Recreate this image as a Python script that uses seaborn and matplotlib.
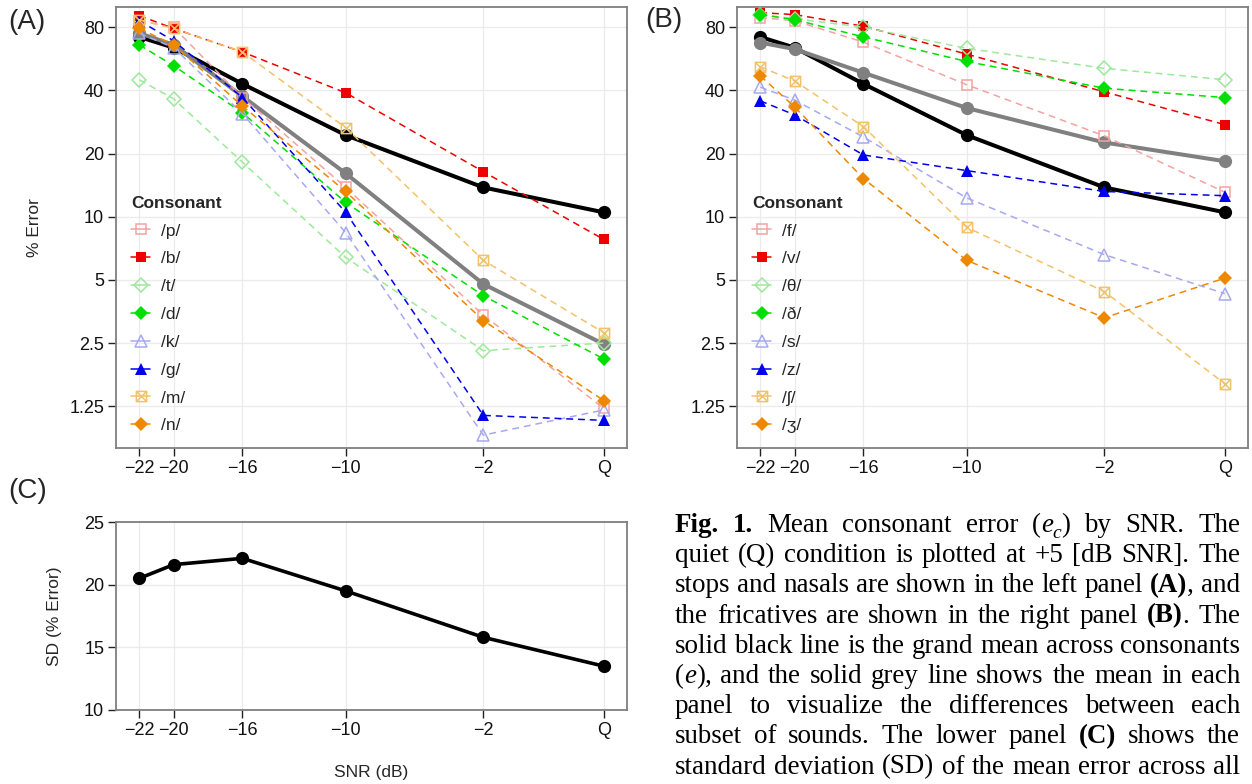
import re
import matplotlib
matplotlib.use("Agg")
import matplotlib.pyplot as plt
import seaborn as sns
from matplotlib.lines import Line2D
from matplotlib.path import Path
from matplotlib.transforms import IdentityTransform

# ---------------- data ----------------
snr_values = [-22, -20, -16, -10, -2, 5]
snr_labels = ["\u221222", "\u221220", "\u221216", "\u221210", "\u22122", "Q"]

grand_mean = [72, 64, 43, 24.5, 13.8, 10.5]

stops_nasals = ["/p/", "/b/", "/t/", "/d/", "/k/", "/g/", "/m/", "/n/"]
err_p = [86, 80, 37, 13.8, 3.4, 1.22]
err_b = [91, 79, 61, 39, 16.4, 7.8]
err_t = [45, 36.5, 18.2, 6.4, 2.3, 2.5]
err_d = [66, 52.5, 31.3, 11.7, 4.2, 2.1]
err_k = [75, 64, 31, 8.4, 0.91, 1.2]
err_g = [86, 69, 37, 10.5, 1.13, 1.07]
err_m = [87, 79, 61, 26.6, 6.2, 2.8]
err_n = [79, 66, 33.7, 13.2, 3.2, 1.33]
mean_stops_nasals = [75, 66, 37.5, 16.1, 4.78, 2.47]

fricatives = ["/f/", "/v/", "/\u03b8/", "/\u00f0/", "/s/", "/z/", "/\u0283/", "/\u0292/"]
err_f = [89, 86, 68, 42.6, 24.3, 13.1]
err_v = [94, 92, 81, 59.6, 39.4, 27.5]
err_th = [92, 88, 80, 63.5, 51, 45]
err_dh = [92, 87, 72, 55, 41, 37]
err_s = [41.5, 36, 24, 12.3, 6.6, 4.3]
err_z = [35.7, 30.6, 19.7, 16.6, 13.2, 12.6]
err_sh = [51.9, 44.4, 26.9, 8.9, 4.4, 1.6]
err_zh = [47, 33.4, 15.2, 6.2, 3.3, 5.1]
mean_fricatives = [67.7, 63, 48.6, 33, 22.6, 18.4]

sd_values = [20.5, 21.6, 22.1, 19.5, 15.8, 13.5]

y_ticks = [1.25, 2.5, 5, 10, 20, 40, 80]
y_tick_labels = ["1.25", "2.5", "5", "10", "20", "40", "80"]

caption_lines = [
    "**Fig.** **1.** Mean consonant error (_e_~c~) by SNR. The",
    "quiet (Q) condition is plotted at +5 [dB SNR]. The",
    "stops and nasals are shown in the left panel **(A)**, and",
    "the fricatives are shown in the right panel **(B)**. The",
    "solid black line is the grand mean across consonants",
    "(_e_), and the solid grey line shows the mean in each",
    "panel to visualize the differences between each",
    "subset of sounds. The lower panel **(C)** shows the",
    "standard deviation (SD) of the mean error across all",
]

# ---------------- styles ----------------
sns.set_theme(style="whitegrid")
plt.rcParams["font.family"] = ["Liberation Sans", "DejaVu Sans"]
plt.rcParams["axes.unicode_minus"] = True

# square with an X inside
box_x = Path(
    [(-1, -1), (1, -1), (1, 1), (-1, 1), (-1, -1),
     (-1, -1), (1, 1), (-1, 1), (1, -1)],
    [Path.MOVETO, Path.LINETO, Path.LINETO, Path.LINETO, Path.CLOSEPOLY,
     Path.MOVETO, Path.LINETO, Path.MOVETO, Path.LINETO],
)

# (colour, marker, marker size, filled)
series_styles = [
    ("#F4A2A2", "s", 7.0, False),
    ("#EE0000", "s", 7.4, True),
    ("#9DE89D", "D", 7.0, False),
    ("#00E000", "D", 7.4, True),
    ("#A8A8F2", "^", 8.6, False),
    ("#0000EE", "^", 8.6, True),
    ("#F2C26A", box_x, 7.4, False),
    ("#EE8800", "D", 7.4, True),
]

W, H = 1252, 784
fig = plt.figure(figsize=(W / 100, H / 100), dpi=100)
fig.patch.set_facecolor("white")


def rect(left, top, right, bottom):
    return [left / W, 1 - bottom / H, (right - left) / W, (bottom - top) / H]


ax_a = fig.add_axes(rect(116, 7, 627, 448))
ax_b = fig.add_axes(rect(737, 7, 1248, 448))
ax_c = fig.add_axes(rect(116, 522, 627, 710))

GRID = "#EBEBEB"
FRAME = "#7F7F7F"
TICKFS = 13
LABELFS = 12.5


def style_axes(ax):
    ax.set_facecolor("white")
    for sp in ax.spines.values():
        sp.set_color(FRAME)
        sp.set_linewidth(1.3)
        sp.set_visible(True)
    ax.grid(True, which="major", color=GRID, linewidth=0.9)
    ax.grid(False, which="minor")
    ax.tick_params(axis="both", which="major", direction="out", length=5.5,
                   width=1.0, color="#222222", labelsize=TICKFS,
                   labelcolor="#111111", pad=3, left=True, bottom=True)
    ax.tick_params(axis="both", which="minor", length=0)
    ax.set_xlim(-23.35, 6.35)
    ax.set_xticks(snr_values)
    ax.set_xticklabels(snr_labels)
    ax.set_xlabel("")
    ax.set_ylabel("")


def draw_panel(ax, names, series, panel_mean):
    sns.lineplot(x=snr_values, y=grand_mean, ax=ax, color="black",
                 linewidth=2.9, marker="o", markersize=9.5,
                 markeredgewidth=0, zorder=2)
    sns.lineplot(x=snr_values, y=panel_mean, ax=ax, color="#808080",
                 linewidth=2.9, marker="o", markersize=9.5,
                 markeredgewidth=0, zorder=2)
    handles = []
    for name, vals, (col, mk, ms, filled) in zip(names, series, series_styles):
        face = col if filled else "none"
        sns.lineplot(x=snr_values, y=vals, ax=ax, color=col,
                     linewidth=1.1, linestyle=(0, (4.5, 3.2)),
                     marker=mk, markersize=ms, markerfacecolor=face,
                     markeredgecolor=col,
                     markeredgewidth=0 if filled else 1.1, zorder=3)
        handles.append(Line2D([], [], color=col, linewidth=1.1,
                              marker=mk, markersize=ms,
                              markerfacecolor=face, markeredgecolor=col,
                              markeredgewidth=0 if filled else 1.1,
                              label=name))
    ax.set_yscale("log", base=2)
    ax.set_ylim(0.79, 100)
    ax.set_yticks(y_ticks)
    ax.set_yticklabels(y_tick_labels)
    ax.yaxis.set_minor_locator(matplotlib.ticker.NullLocator())
    style_axes(ax)
    leg = ax.legend(handles=handles, title="Consonant", loc="upper left",
                    bbox_to_anchor=(0.03, 0.572), frameon=False,
                    fontsize=12.5,
                    title_fontproperties={"weight": "bold", "size": 12.5},
                    handlelength=1.1, handletextpad=0.6, labelspacing=0.73,
                    borderpad=0, borderaxespad=0, alignment="left")
    return leg


draw_panel(ax_a, stops_nasals,
           [err_p, err_b, err_t, err_d, err_k, err_g, err_m, err_n],
           mean_stops_nasals)
draw_panel(ax_b, fricatives,
           [err_f, err_v, err_th, err_dh, err_s, err_z, err_sh, err_zh],
           mean_fricatives)

ax_a.set_ylabel("% Error", fontsize=LABELFS)
ax_a.yaxis.set_label_coords(-0.145, 0.5)

# SD panel
sns.lineplot(x=snr_values, y=sd_values, ax=ax_c, color="black",
             linewidth=2.6, marker="o", markersize=9.5, markeredgewidth=0)
ax_c.set_ylim(10, 25)
ax_c.set_yticks([10, 15, 20, 25])
style_axes(ax_c)
ax_c.set_ylabel("SD (% Error)", fontsize=LABELFS)
ax_c.yaxis.set_label_coords(-0.105, 0.5)
ax_c.set_xlabel("SNR (dB)", fontsize=LABELFS)
ax_c.xaxis.set_label_coords(0.5, -0.29)
ax_c.xaxis.label.set_va("top")

# panel tags
for tag, x, y in [("(A)", 8, 22), ("(B)", 645, 20), ("(C)", 8, 491)]:
    fig.text(x / W, 1 - y / H, tag, fontsize=20, ha="left", va="center")

# ---------------- justified caption ----------------
CAP_LEFT, CAP_RIGHT = 675, 1240
CAP_BASE0, CAP_STEP = 532, 30.2
serif = ["Liberation Serif", "DejaVu Serif"]
renderer = fig.canvas.get_renderer()
px_per_pt = 100 / 72

# size the serif text so the tightest line fills the column width
probe = fig.text(0, 0, caption_lines[4], fontsize=17, family=serif,
                 transform=IdentityTransform())
CAP_FS = 17 * (CAP_RIGHT - CAP_LEFT) / probe.get_window_extent(renderer).width
probe.remove()


def word_pieces(word):
    pieces = []
    for seg in re.split(r"(\*\*.*?\*\*|_.*?_|~.*?~)", word):
        if not seg:
            continue
        if seg.startswith("**"):
            pieces.append((seg[2:-2], "bold", "normal", False))
        elif seg.startswith("_"):
            pieces.append((seg[1:-1], "normal", "italic", False))
        elif seg.startswith("~"):
            pieces.append((seg[1:-1], "normal", "italic", True))
        else:
            pieces.append((seg, "normal", "normal", False))
    return pieces


for i, line in enumerate(caption_lines):
    base_y = H - (CAP_BASE0 + i * CAP_STEP)
    words = []
    for w in line.split(" "):
        objs = []
        for txt, wt, st, sub in word_pieces(w):
            fs = CAP_FS * (0.72 if sub else 1.0)
            t = fig.text(0, 0, txt, fontsize=fs, fontweight=wt, fontstyle=st,
                         family=serif, ha="left", va="baseline",
                         transform=IdentityTransform(), color="black")
            wpx = t.get_window_extent(renderer).width
            objs.append((t, wpx, sub))
        words.append(objs)
    total = sum(p[1] for objs in words for p in objs)
    gap = (CAP_RIGHT - CAP_LEFT - total) / (len(words) - 1)
    x = CAP_LEFT
    for objs in words:
        for t, wpx, sub in objs:
            dy = -0.22 * CAP_FS * px_per_pt if sub else 0
            t.set_position((x, base_y + dy))
            x += wpx
        x += gap

fig.savefig("out.png", dpi=100, facecolor="white")
